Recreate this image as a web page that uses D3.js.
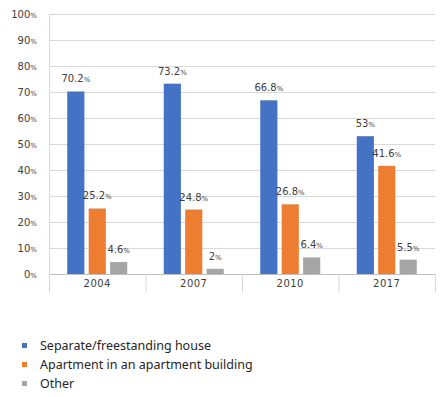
<!DOCTYPE html>
<html>
<head>
<meta charset="UTF-8">
<title>Housing types</title>
<style>
body { margin: 0; background: #fff; }
svg { display: block; font-family: "DejaVu Sans", sans-serif; }
.lab { fill: #404040; font-size: 10px; }
.pct { font-size: 7px; }
</style>
</head>
<body>
<svg width="444" height="397"></svg>
<script src="https://cdn.jsdelivr.net/npm/d3@7"></script>
<script>
// data
let years = ["2004", "2007", "2010", "2017"];
let seriesNames = ["Separate/freestanding house", "Apartment in an apartment building", "Other"];
let house = [70.2, 73.2, 66.8, 53];
let apartment = [25.2, 24.8, 26.8, 41.6];
let other = [4.6, 2, 6.4, 5.5];
let yTicks = [0, 10, 20, 30, 40, 50, 60, 70, 80, 90, 100];
let colors = ["#4472c4", "#ed7d31", "#a5a5a5"];

let series = [house, apartment, other];
let svg = d3.select("svg");

let pLeft = 49, pRight = 435, pTop = 14, pBottom = 274;

let x = d3.scaleBand().domain(years).range([pLeft, pRight]);
let xs = d3.scaleBand().domain([0, 1, 2]).range([0, 60]).paddingInner(0.2);
let y = d3.scaleLinear().domain([0, 100]).range([pBottom, pTop]);

// grid lines
svg.append("g").selectAll("line").data(yTicks.slice(1)).enter().append("line")
  .attr("x1", pLeft).attr("x2", pRight)
  .attr("y1", d => y(d) + 0.5).attr("y2", d => y(d) + 0.5)
  .attr("stroke", "#d9d9d9").attr("stroke-width", 1);

// left axis line
svg.append("line")
  .attr("x1", pLeft + 0.5).attr("x2", pLeft + 0.5)
  .attr("y1", pTop).attr("y2", pBottom)
  .attr("stroke", "#d9d9d9");

// y labels
let yl = svg.append("g").selectAll("text").data(yTicks).enter().append("text")
  .attr("class", "lab")
  .attr("x", 37).attr("y", d => y(d) + 4)
  .attr("text-anchor", "end");
yl.append("tspan").text(d => d);
yl.append("tspan").attr("class", "pct").text("%");

// bars
let groups = svg.append("g").selectAll("g").data(years).enter().append("g")
  .attr("transform", d => "translate(" + (x(d) + x.bandwidth() / 2 - 30) + ",0)");

series.forEach((vals, si) => {
  groups.append("rect")
    .attr("x", xs(si))
    .attr("width", xs.bandwidth())
    .attr("y", (d, i) => y(vals[i]))
    .attr("height", (d, i) => pBottom - y(vals[i]))
    .attr("fill", colors[si]);
  let t = groups.append("text")
    .attr("class", "lab")
    .attr("x", xs(si) + xs.bandwidth() / 2)
    .attr("y", (d, i) => y(vals[i]) - 9)
    .attr("text-anchor", "middle");
  t.append("tspan").text((d, i) => vals[i]);
  t.append("tspan").attr("class", "pct").text("%");
});

// x axis
svg.append("line")
  .attr("x1", pLeft).attr("x2", pRight)
  .attr("y1", pBottom + 0.5).attr("y2", pBottom + 0.5)
  .attr("stroke", "#bfbfbf");
svg.append("g").selectAll("line").data(years.concat(["end"])).enter().append("line")
  .attr("x1", (d, i) => (i < years.length ? x(d) : pRight) + 0.5)
  .attr("x2", (d, i) => (i < years.length ? x(d) : pRight) + 0.5)
  .attr("y1", pBottom).attr("y2", pBottom + 19)
  .attr("stroke", "#d9d9d9");
svg.append("g").selectAll("text").data(years).enter().append("text")
  .attr("class", "lab")
  .attr("x", d => x(d) + x.bandwidth() / 2)
  .attr("y", pBottom + 13)
  .attr("text-anchor", "middle")
  .style("letter-spacing", "0.5px")
  .text(d => d);

// legend
let lg = svg.append("g").selectAll("g").data(seriesNames).enter().append("g")
  .attr("transform", (d, i) => "translate(22," + (343 + i * 19) + ")");
lg.append("rect").attr("width", 5).attr("height", 5).attr("fill", (d, i) => colors[i]);
lg.append("text")
  .attr("x", 18).attr("y", 7)
  .style("font-family", "'Noto Sans', sans-serif")
  .style("font-size", "12.5px")
  .attr("fill", "#262626")
  .text(d => d);
</script>
</body>
</html>
